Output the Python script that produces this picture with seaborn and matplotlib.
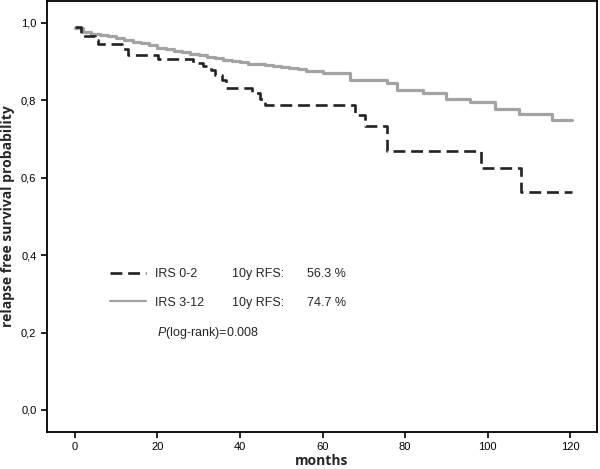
import matplotlib
matplotlib.use("Agg")
import matplotlib.pyplot as plt
import pandas as pd
import seaborn as sns
from matplotlib.lines import Line2D

# Kaplan-Meier steps (months, survival)
low_months = [0, 1.6, 4.9, 5.6, 11.3, 12.9, 20.1, 28.5, 31.0, 33.1, 33.9, 35.6, 36.6,
              42.8, 44.8, 46.1, 67.9, 70.3, 75.6, 98.4, 108.1, 120.4]
low_surv = [0.990, 0.966, 0.956, 0.945, 0.932, 0.917, 0.907, 0.897, 0.888, 0.878, 0.866,
            0.853, 0.831, 0.818, 0.803, 0.789, 0.762, 0.735, 0.670, 0.626, 0.564, 0.564]

high_months = [0, 2, 4, 6, 8, 10, 12, 14, 16, 18, 20, 22, 24, 26, 28, 30, 32, 34, 36, 38,
               40, 42, 44, 46, 48, 50, 52, 54, 56, 58, 60, 66.7, 75.6, 78, 84.4, 90,
               95.8, 101.8, 107.5, 115.6, 120.4]
high_surv = [0.986, 0.978, 0.972, 0.969, 0.966, 0.962, 0.957, 0.952, 0.948, 0.942, 0.936,
             0.932, 0.928, 0.925, 0.921, 0.916, 0.912, 0.909, 0.905, 0.901, 0.898, 0.895,
             0.893, 0.891, 0.889, 0.886, 0.883, 0.880, 0.877, 0.875, 0.872, 0.853, 0.845,
             0.827, 0.818, 0.803, 0.795, 0.777, 0.765, 0.748, 0.748]

groups = ["IRS 0-2", "IRS 3-12"]
rfs_text = ["56.3 %", "74.7 %"]
p_text = "$\\mathit{P}$(log-rank)=0.008"
x_ticks = [0, 20, 40, 60, 80, 100, 120]
y_ticks = [0.0, 0.2, 0.4, 0.6, 0.8, 1.0]
y_ticklabels = ["0,0", "0,2", "0,4", "0,6", "0,8", "1,0"]

df = pd.concat([
    pd.DataFrame({"months": low_months, "surv": low_surv, "group": groups[0]}),
    pd.DataFrame({"months": high_months, "surv": high_surv, "group": groups[1]}),
])

sns.set_style("ticks")
plt.rcParams["font.family"] = ["Liberation Sans", "DejaVu Sans"]
plt.rcParams["mathtext.fontset"] = "custom"
plt.rcParams["mathtext.it"] = "Liberation Sans:italic"
plt.rcParams["mathtext.rm"] = "Liberation Sans"

fig = plt.figure(figsize=(6, 4.69), dpi=100)
ax = fig.add_axes([0.078, 0.079, 0.917, 0.919])

dark = "#222222"
gray = "#a3a3a3"

sns.lineplot(data=df[df.group == groups[1]], x="months", y="surv", ax=ax,
             drawstyle="steps-post", color=gray, linewidth=2.3, estimator=None)
sns.lineplot(data=df[df.group == groups[0]], x="months", y="surv", ax=ax,
             drawstyle="steps-post", color=dark, linewidth=1.9, estimator=None,
             linestyle=(0, (4.5, 2.2)))

ax.set_xlim(-6.8, 126.5)
ax.set_ylim(-0.057, 1.057)
ax.set_xticks(x_ticks)
ax.set_yticks(y_ticks)
ax.set_yticklabels(y_ticklabels)
ax.tick_params(labelsize=8, width=1.2, length=4, colors="black")
for s in ax.spines.values():
    s.set_linewidth(1.3)
    s.set_color("black")

ax.set_xlabel("months", fontsize=10, fontweight="bold", family="Open Sans", labelpad=1)
ax.set_ylabel("relapse free survival probability", fontsize=10, fontweight="bold",
              family="Open Sans", labelpad=4)

handles = [Line2D([], [], color=dark, linewidth=1.9, linestyle=(0, (4.5, 2.2))),
           Line2D([], [], color=gray, linewidth=1.6)]
ax.legend(handles, groups, loc="center left", bbox_to_anchor=(0.114, 0.333),
          frameon=False, fontsize=9, handlelength=2.9, handletextpad=0.7,
          labelspacing=1.3, borderpad=0, borderaxespad=0)

row_y = [(432 - 274) / 431, (432 - 303) / 431]
for i in range(2):
    ax.text((232 - 47) / 550, row_y[i], "10y RFS:", transform=ax.transAxes,
            fontsize=9, va="center")
    ax.text((307 - 47) / 550, row_y[i], rfs_text[i], transform=ax.transAxes,
            fontsize=9, va="center")
ax.text((157 - 47) / 550, (432 - 333) / 431, p_text, transform=ax.transAxes,
        fontsize=9, va="center")

fig.savefig("out.png", dpi=100)
